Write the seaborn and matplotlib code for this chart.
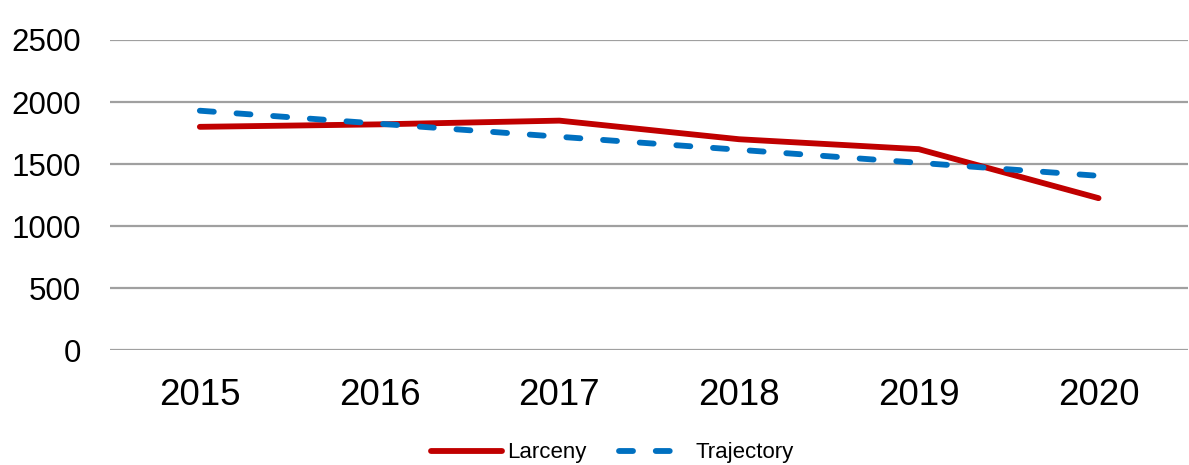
import pandas as pd
import matplotlib.pyplot as plt
import seaborn as sns

# values
years = ['2015', '2016', '2017', '2018', '2019', '2020']
larceny = [1800, 1820, 1850, 1700, 1620, 1225]
trajectory = [1930, 1825, 1720, 1615, 1510, 1405]

df = pd.DataFrame({'Year': years, 'Larceny': larceny, 'Trajectory': trajectory})
df['x'] = range(len(df))

sns.set_style('white')
plt.rcParams['font.family'] = ['Liberation Sans', 'DejaVu Sans']

fig = plt.figure(figsize=(11.89, 4.65), dpi=100)
ax = fig.add_axes([0.0925, 0.247, 0.907, 0.667])

sns.lineplot(data=df, x='x', y='Larceny', ax=ax, color='#c00000', linewidth=4.2,
             solid_capstyle='round', label='Larceny', legend=False)
sns.lineplot(data=df, x='x', y='Trajectory', ax=ax, color='#0070c0', linewidth=4.2,
             linestyle=(0, (2.4, 3.9)), dash_capstyle='round', label='Trajectory', legend=False)

ax.set_xlim(-0.5, 5.5)
ax.set_ylim(0, 2500)
ax.set_yticks([0, 500, 1000, 1500, 2000, 2500])
ax.set_xticks(df['x'])
ax.set_xticklabels(years)
ax.yaxis.grid(True, color='#a0a0a0', linewidth=1.6)
ax.xaxis.grid(False)
for s in ax.spines.values():
    s.set_visible(False)
ax.tick_params(axis='y', labelsize=22.5, length=0, pad=21, labelcolor='black')
ax.tick_params(axis='x', labelsize=26.5, length=0, pad=20, labelcolor='black')
ax.set_xlabel('')
ax.set_ylabel('')

handles, labels = ax.get_legend_handles_labels()
fig.legend(handles, labels, loc='center', bbox_to_anchor=(0.515, 0.026), ncol=2, frameon=False,
           fontsize=16, labelcolor='black', handlelength=3.2, columnspacing=1.45,
           handletextpad=0.25)

plt.savefig('out.png', dpi=100)
